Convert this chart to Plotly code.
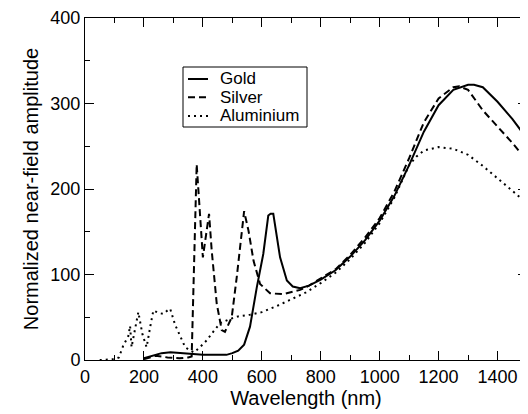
import plotly.graph_objects as go

# ---- data ----
gold_wl = [200, 230, 260, 290, 320, 350, 400, 450, 480, 500, 520, 540, 560, 583,
           605, 622, 630, 639, 662, 685, 705, 730, 760, 800, 850, 900, 950, 1000,
           1050, 1100, 1150, 1200, 1250, 1300, 1320, 1350, 1400, 1450, 1500]
gold_amp = [2, 5, 8, 9, 8, 7, 6, 6, 6, 8, 11, 18, 39, 85,
            124, 169, 171, 171, 120, 93, 86, 84, 87, 94, 105, 121, 140, 163,
            192, 228, 267, 298, 316, 322, 322, 319, 302, 282, 259]

silver_wl = [200, 240, 280, 320, 350, 362, 379, 400, 421, 430, 447, 464, 475, 498,
             515, 532, 540, 555, 572, 594, 628, 673, 730, 760, 800, 850, 900, 950,
             1000, 1050, 1100, 1150, 1200, 1250, 1270, 1300, 1350, 1400, 1450, 1500]
silver_amp = [1, 5, 3, 2, 3, 4, 229, 120, 171, 128, 66, 35, 33, 50,
              97, 155, 174, 151, 116, 89, 78, 77, 82, 87, 95, 106, 123, 143,
              166, 197, 236, 278, 306, 319, 320, 316, 292, 273, 254, 233]

alu_wl = [50, 100, 115, 130, 147, 153, 158, 170, 181, 195, 209, 222, 232, 250,
          266, 280, 289, 306, 323, 340, 357, 370, 390, 413, 435, 458, 492, 520,
          560, 600, 650, 700, 750, 800, 850, 900, 950, 1000, 1050, 1100, 1125,
          1150, 1200, 1250, 1300, 1350, 1400, 1450, 1500]
alu_amp = [0, 1, 3, 17, 28, 40, 15, 35, 56, 30, 15, 40, 58, 55,
           54, 58, 60, 41, 27, 15, 11, 9, 15, 23, 33, 43, 48, 51,
           53, 56, 63, 71, 79, 90, 102, 118, 137, 160, 190, 228, 238,
           245, 249, 247, 240, 227, 213, 198, 183]

series_names = ["Gold", "Silver", "Aluminium"]

x_ticks = [0, 200, 400, 600, 800, 1000, 1200, 1400]
y_ticks = [0, 100, 200, 300, 400]

FONT = "Liberation Sans, Arial, Helvetica, sans-serif"
dashes = ["solid", "7px,4px", "2px,4px"]

fig = go.Figure()
for name, xs, ys, d in zip(series_names, [gold_wl, silver_wl, alu_wl],
                           [gold_amp, silver_amp, alu_amp], dashes):
    fig.add_trace(go.Scatter(x=xs, y=ys, mode="lines", name=name, showlegend=False,
                             line=dict(color="black", width=2, dash=d)))

# ---- page geometry (the page body adds an 8px offset) ----
W, H = 520, 406
ML, MR, MT, MB = 77, 1, 10, 54
PLOT_L, PLOT_T = 8 + ML, 8 + MT
PW, PH = W - ML - MR, H - MT - MB

def px_x(page_x):
    return (page_x - PLOT_L) / PW
def px_y(page_y):
    return 1 - (page_y - PLOT_T) / PH

# legend box drawn in paper coordinates
shapes = [dict(type="rect", xref="paper", yref="paper",
               x0=px_x(183), x1=px_x(307), y0=px_y(67), y1=px_y(127),
               line=dict(color="black", width=1), fillcolor="white", layer="above")]
annotations = []
row_y = [79, 97.3, 116]
for name, d, ry in zip(series_names, dashes, row_y):
    shapes.append(dict(type="line", xref="paper", yref="paper",
                       x0=px_x(188), x1=px_x(208), y0=px_y(ry), y1=px_y(ry),
                       line=dict(color="black", width=2, dash=d), layer="above"))
    annotations.append(dict(xref="paper", yref="paper", x=px_x(218), y=px_y(ry),
                            text=name, showarrow=False, xanchor="left", yanchor="middle",
                            font=dict(family=FONT, size=17, color="black")))

axis_common = dict(
    showline=True, linecolor="black", linewidth=1, mirror="ticks",
    ticks="inside", ticklen=9, tickwidth=1, tickcolor="black",
    showgrid=False, zeroline=False, automargin=False,
    ticklabeloverflow="allow",
    tickfont=dict(family=FONT, size=18, color="black"),
)

fig.update_layout(
    width=W, height=H,
    margin=dict(l=ML, r=MR, t=MT, b=MB),
    paper_bgcolor="white", plot_bgcolor="white",
    font=dict(family=FONT, color="black"),
    showlegend=False,
    shapes=shapes, annotations=annotations,
    xaxis=dict(range=[0, 1500], tickvals=x_ticks,
               minor=dict(dtick=100, tick0=0, ticks="inside", ticklen=5, tickcolor="black"),
               title=dict(text="Wavelength (nm)", font=dict(family=FONT, size=20), standoff=4),
               **axis_common),
    yaxis=dict(range=[0, 400], tickvals=y_ticks,
               minor=dict(dtick=50, tick0=0, ticks="inside", ticklen=5, tickcolor="black"),
               title=dict(text="Normalized near-field amplitude", font=dict(family=FONT, size=20), standoff=6),
               **axis_common),
)

fig.write_html("out.html")
